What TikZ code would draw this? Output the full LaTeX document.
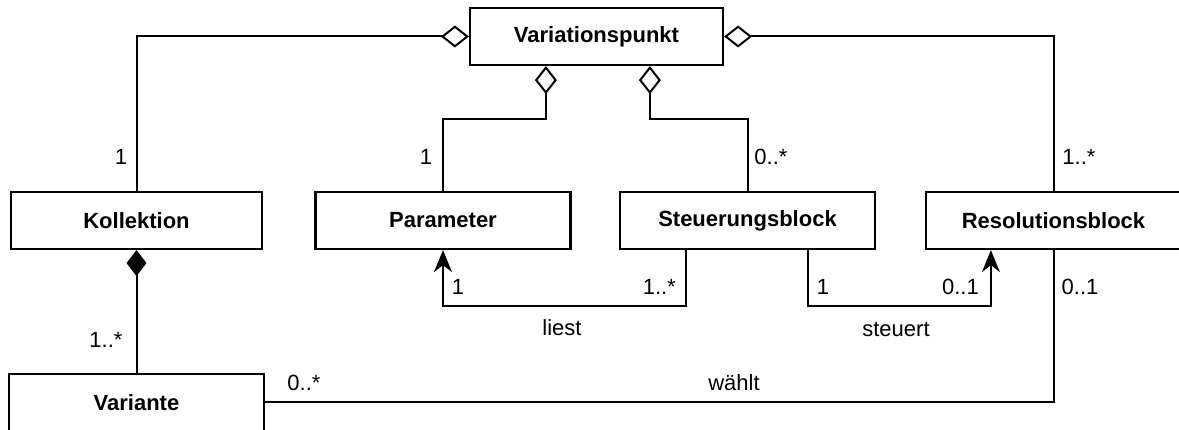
\documentclass[tikz,border=0pt]{standalone}
\usepackage{fontspec}
\setmainfont{Liberation Sans}
\usetikzlibrary{arrows.meta,calc}
\begin{document}
\begin{tikzpicture}[x=1pt,y=-1pt,
  cls/.style={draw,line width=2.2pt,minimum height=57pt,inner sep=0pt,font=\fontsize{22}{26}\selectfont\bfseries,fill=white},
  conn/.style={line width=2pt},
  agg/.style={conn,-{Diamond[open,fill=white,length=28pt,width=22pt,line width=2pt]}},
  comp/.style={conn,-{Diamond[length=26pt,width=20pt]}},
  nav/.style={conn,-{Stealth[length=22pt,width=18pt,inset=7pt]}},
  lbl/.style={font=\fontsize{22}{26}\selectfont,inner sep=0pt}]
\useasboundingbox (0,0) rectangle (1179,430);
\node[cls,minimum width=253pt] (VP) at (596.5,36.5) {Variationspunkt};
\node[cls,minimum width=251pt] (Kol) at (136.5,220.5) {Kollektion};
\node[cls,minimum width=255pt] (Par) at (443,220.5) {Parameter};
\node[cls,minimum width=255pt] (Steu) at (747.5,220.5) {Steuerungsblock};
\node[cls,minimum width=255pt] (Res) at (1053.5,220.5) {Resolutionsblock};
\node[cls,minimum width=255pt] (Var) at (136.5,402.5) {Variante};
% aggregations
\draw[agg] (Kol.north) |- (VP.west);
\draw[agg] (Res.north) |- (VP.east);
\coordinate (dP) at ($(VP.south west)+(77,0)$);
\coordinate (dS) at ($(VP.south west)+(181,0)$);
\draw[agg] (Par.north) |- ($(dP)+(0,53)$) -- (dP);
\draw[agg] (Steu.north) |- ($(dS)+(0,53)$) -- (dS);
% composition
\draw[comp] (Var.north) -- (Kol.south);
% navigable
\coordinate (s1) at ($(Steu.south west)+(67,0)$);
\coordinate (s2) at ($(Steu.south west)+(189,0)$);
\coordinate (r1) at ($(Res.south west)+(66,0)$);
\draw[nav] (s1) -- ($(s1)+(0,56)$) -| (Par.south);
\draw[nav] (s2) -- ($(s2)+(0,56)$) -| (r1);
\draw[conn] (Var.east) -| (Res.south);
% labels
\node[lbl] (m1) at (121,157) {1};
\node[lbl] (m2) at (426,157) {1};
\node[lbl] (m3) at (771,157) {0..*};
\node[lbl] (m4) at (1079,157) {1..*};
\node[lbl] (m5) at (106,340) {1..*};
\node[lbl] (m6) at (458,287) {1};
\node[lbl,anchor=east] (m7) at (676,287) {1..*};
\node[lbl] (m8) at (562,328) {liest};
\node[lbl] (m9) at (823,287) {1};
\node[lbl,anchor=east] (m10) at (979,287) {0..1};
\node[lbl] (m11) at (896,329) {steuert};
\node[lbl] (m12) at (1080,287) {0..1};
\node[lbl] (m13) at (304,383) {0..*};
\node[lbl] (m14) at (734,383) {wählt};
\end{tikzpicture}
\end{document}
